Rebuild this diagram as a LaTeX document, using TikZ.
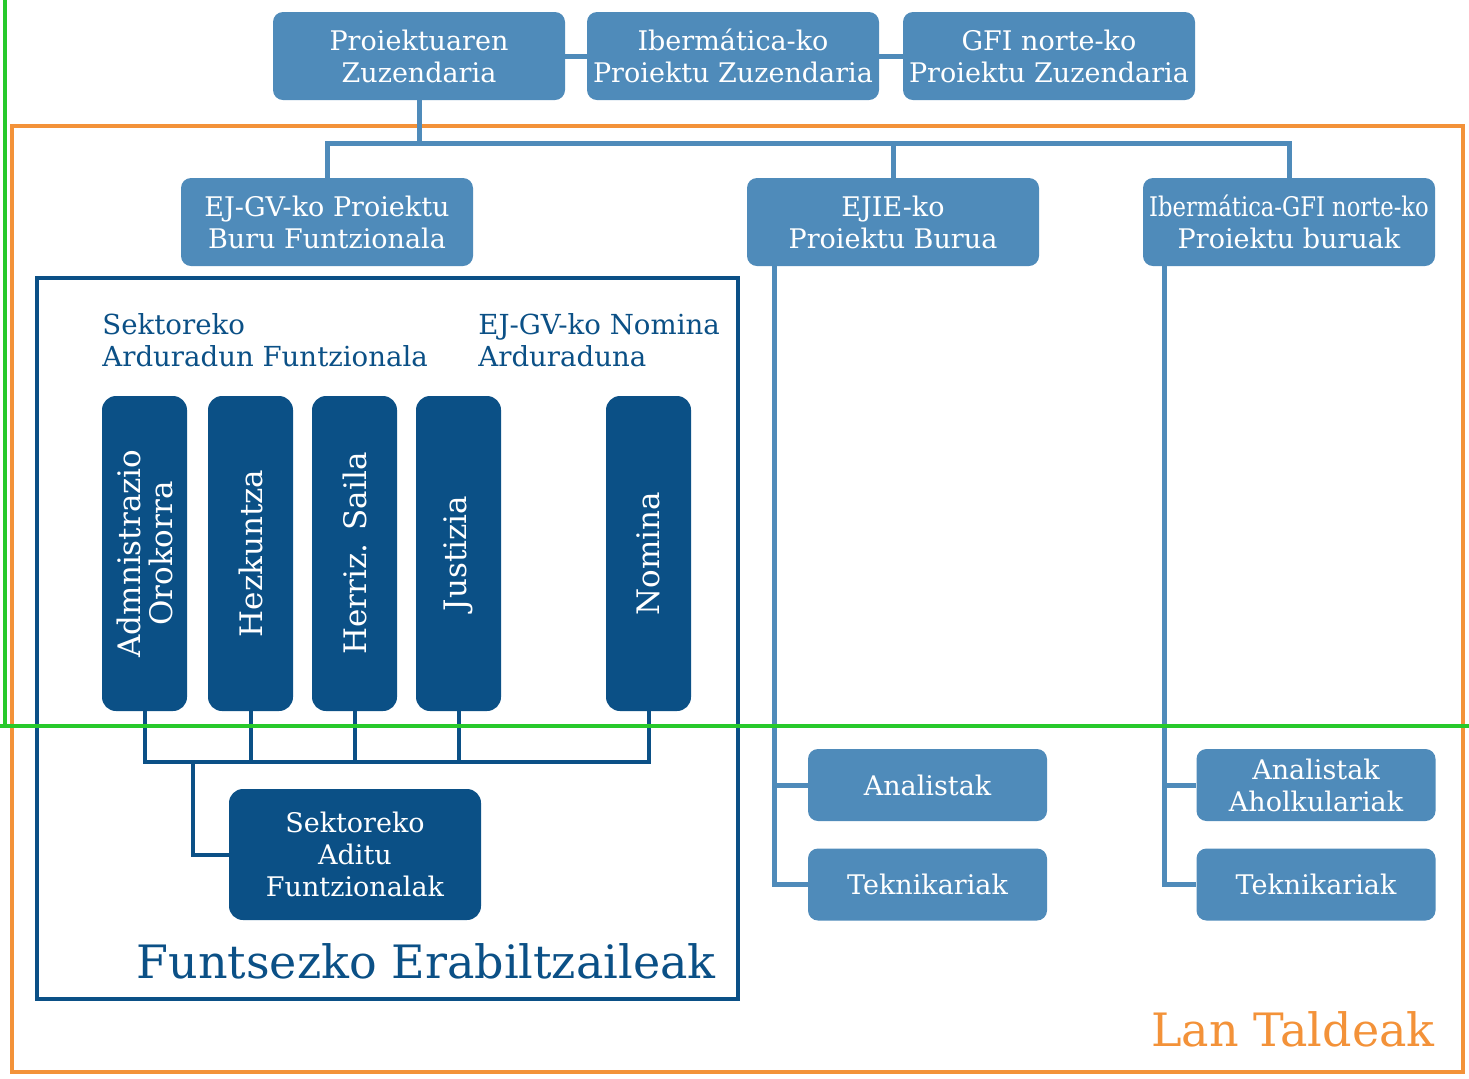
\documentclass[tikz,border=0pt]{standalone}
\usepackage{fontspec}
\setmainfont{DejaVu Serif}
\newfontfamily\narrowfont{DejaVu Serif}[FakeStretch=0.84]
\definecolor{lblue}{HTML}{4F8BBA}
\definecolor{dblue}{HTML}{0B5086}
\definecolor{lorange}{HTML}{F39239}
\definecolor{lgreen}{HTML}{27C92B}
\begin{document}
\begin{tikzpicture}[x=0.5pt,y=-0.5pt,
    lbox/.style={fill=lblue,rounded corners=5pt,text=white,align=center,inner sep=1pt,
      minimum width=146pt,minimum height=44pt,font=\fontsize{13.5}{16}\selectfont},
    sbox/.style={lbox,minimum width=119.5pt,minimum height=36pt},
    dbox/.style={fill=dblue,rounded corners=7pt,text=white,align=center,inner sep=1pt,
      font=\fontsize{13.5}{16}\selectfont},
    vbox/.style={dbox,rotate=90,minimum width=157.5pt,minimum height=42.5pt,
      font=\fontsize{15.5}{16}\selectfont},
    lline/.style={lblue,line width=2.5pt},
    dline/.style={dblue,line width=2pt},
    lbl/.style={text=dblue,align=left,inner sep=0pt,font=\fontsize{13.8}{16}\selectfont}]
  \useasboundingbox (0,0) rectangle (1469,1078);

  % frames
  \draw[lorange,line width=2pt] (12,126) rectangle (1463,1072);
  \draw[dblue,line width=2pt] (37,278) rectangle (738,999);

  % top row
  \node[lbox] (pz) at (419,56) {Proiektuaren\\Zuzendaria};
  \node[lbox] (ibz) at (733,56) {Ibermática-ko\\Proiektu Zuzendaria};
  \node[lbox] (gfz) at (1049,56) {GFI norte-ko\\Proiektu Zuzendaria};
  \draw[lline] (pz.east) -- (ibz.west);
  \draw[lline] (ibz.east) -- (gfz.west);

  % project heads
  \node[lbox] (ejgv) at (327,222) {EJ-GV-ko Proiektu\\Buru Funtzionala};
  \node[lbox] (ejie) at (893,222) {EJIE-ko\\Proiektu Burua};
  \node[lbox] (fbur) at (1289,222) {{\narrowfont Ibermática-GFI norte-ko}\\Proiektu buruak};
  \coordinate (tb) at (0,143);
  \draw[lline] (pz.south) -- (pz.south |- tb);
  \draw[lline] (ejgv.north) |- (fbur.north |- tb) -- (fbur.north);
  \draw[lline] (ejie.north) -- (ejie.north |- tb);

  % teams
  \node[sbox] (an1) at (927.5,785) {Analistak};
  \node[sbox] (tek1) at (927.5,884.5) {Teknikariak};
  \node[sbox] (an2) at (1316,785) {Analistak\\Aholkulariak};
  \node[sbox] (tek2) at (1316,884.5) {Teknikariak};
  \coordinate (ev) at ([xshift=14pt]ejie.south west);
  \coordinate (fv) at ([xshift=11pt]fbur.south west);
  \draw[lline] (ev) |- (tek1.west);
  \draw[lline] (ev |- an1.west) -- (an1.west);
  \draw[lline] (fv) |- (tek2.west);
  \draw[lline] (fv |- an2.west) -- (an2.west);

  % key users
  \node[lbl,anchor=north west] (sar) at (102,313) {Sektoreko\\Arduradun Funtzionala};
  \node[lbl,anchor=north west] (nar) at (478,313) {EJ-GV-ko Nomina\\Arduraduna};
  \node[vbox] (adm) at (144.5,553.5) {Admnistrazio\\Orokorra};
  \node[vbox] (hez) at (250.5,553.5) {Hezkuntza};
  \node[vbox] (her) at (354.5,553.5) {Herriz. Saila};
  \node[vbox] (jus) at (458.5,553.5) {Justizia};
  \node[vbox] (nom) at (648.5,553.5) {Nomina};
  \node[dbox,minimum width=126pt,minimum height=65.5pt] (sad) at (355,854.5)
    {Sektoreko\\Aditu\\Funtzionalak};
  \coordinate (bus) at (0,762);
  \coordinate (busk) at (193,762);
  \draw[dline] (adm.west) |- (nom.west |- bus) -- (nom.west);
  \draw[dline] (hez.west) -- (hez.west |- bus);
  \draw[dline] (her.west) -- (her.west |- bus);
  \draw[dline] (jus.west) -- (jus.west |- bus);
  \draw[dline] (busk) |- (sad.west);

  \node[text=dblue,anchor=base east,inner sep=0pt,font=\fontsize{23}{26}\selectfont]
    (fe) at (716,978) {Funtsezko Erabiltzaileak};
  \node[text=lorange,anchor=base east,inner sep=0pt,font=\fontsize{23}{26}\selectfont]
    (lt) at (1435,1046) {Lan Taldeak};

  % green marks
  \draw[lgreen,line width=2pt] (5,0) -- (5,726);
  \draw[lgreen,line width=2pt] (0,726) -- (1469,726);
\end{tikzpicture}
\end{document}
